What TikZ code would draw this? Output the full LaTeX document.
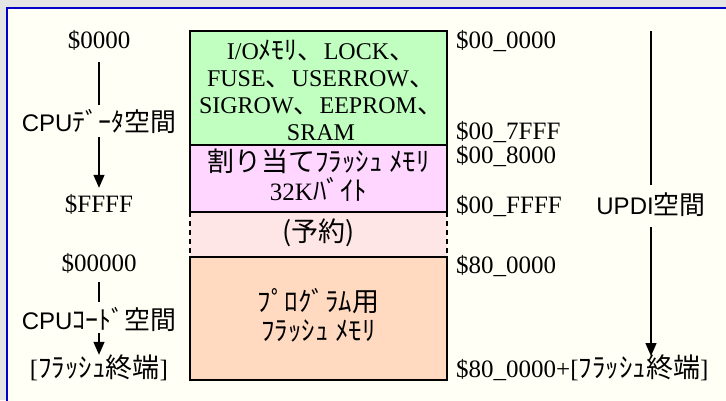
\documentclass[tikz,border=0pt]{standalone}
\usepackage{fontspec}
\setmainfont{Liberation Serif}
\newfontfamily\jpfont[Scale=1.08]{Noto Sans CJK JP}
\newfontfamily\gothic{Liberation Sans}
\usetikzlibrary{arrows.meta}
\newcommand{\jtxt}[1]{{\jpfont #1}}

\definecolor{pagegray}{RGB}{228,228,228}
\definecolor{ivory}{RGB}{255,255,246}
\definecolor{frameblue}{RGB}{0,0,200}
\definecolor{iomem}{RGB}{192,255,192}
\definecolor{flashmap}{RGB}{255,214,255}
\definecolor{rsvd}{RGB}{255,230,230}
\definecolor{progflash}{RGB}{255,218,192}

\tikzset{
  addr/.style={font=\fontsize{25}{28}\selectfont, text height=18pt, text depth=2pt},
  spacename/.style={font=\fontsize{24}{28}\selectfont\gothic, text height=18pt, text depth=2pt},
  boxtext/.style={align=center},
  membox/.style={draw=black, line width=2.6pt},
  spanline/.style={line width=1.4pt},
}

\begin{document}
\begin{tikzpicture}[x=1pt, y=-1pt, >={Triangle[length=13pt,width=11pt]}, every node/.style={inner sep=0pt}]
	% 1. 背景と青い外枠 (右下は画面外まで続く)
	\clip (0,0) rectangle (726,400);
	\fill[pagegray] (0,0) rectangle (726,400);
	\fill[ivory] (7,8) rectangle (740,420);
	\draw[frameblue, line width=2pt] (7,8) rectangle (740,420);
	
	% 2. メモリ領域の塗り
	\fill[iomem] (190,31) rectangle (447,145);
	\fill[flashmap] (190,145) rectangle (447,212);
	\fill[rsvd] (190,212) rectangle (447,257);
	\fill[progflash] (190,257) rectangle (447,380);
	
	% 3. 領域の枠線 (予約領域の左右だけ破線)
	\draw[membox] (190,31) rectangle (447,212);
	\draw[membox] (190,145) -- (447,145);
	\draw[membox] (190,257) rectangle (447,380);
	\draw[membox, dash pattern=on 5pt off 4pt] (190,212) -- (190,257);
	\draw[membox, dash pattern=on 5pt off 4pt] (447,212) -- (447,257);
	
	% 4. 領域の中の文字
	\node[boxtext, font=\fontsize{24}{27}\selectfont] (ioText) at (321,90) {I/O\jtxt{ﾒﾓﾘ、}LOCK\jtxt{、}\\FUSE\jtxt{、}USERROW\jtxt{、}\\SIGROW\jtxt{、}EEPROM\jtxt{、}\\SRAM};
	\node[boxtext, font=\fontsize{25}{29}\selectfont] (mapText) at (318.5,175) {\jtxt{割り当てﾌﾗｯｼｭ ﾒﾓﾘ}\\32K\jtxt{ﾊﾞｲﾄ}};
	\node[boxtext, font=\fontsize{25}{29}\selectfont] (rsvText) at (318.5,233) {\jtxt{(予約)}};
	\node[boxtext, font=\fontsize{25}{29}\selectfont] (progText) at (318.5,315) {\jtxt{ﾌﾟﾛｸﾞﾗﾑ用}\\\jtxt{ﾌﾗｯｼｭ ﾒﾓﾘ}};
	
	% 5. CPU側の空間 (左)
	\node[addr] (cpuDataTop) at (99,40) {\$0000};
	\node[spacename] (cpuData) at (99,123) {CPU\jtxt{ﾃﾞｰﾀ空間}};
	\node[addr] (cpuDataEnd) at (99,204) {\$FFFF};
	\draw[spanline, shorten <=12pt, shorten >=8pt] (cpuDataTop) -- (cpuData);
	\draw[spanline, ->, shorten <=4pt, shorten >=6pt] (cpuData) -- (cpuDataEnd);
	
	\node[addr] (cpuCodeTop) at (99,263) {\$00000};
	\node[spacename] (cpuCode) at (99,321) {CPU\jtxt{ｺｰﾄﾞ空間}};
	\node[addr] (cpuCodeEnd) at (99,369) {[\jtxt{ﾌﾗｯｼｭ終端}]};
	\draw[spanline, shorten <=9pt, shorten >=9pt] (cpuCodeTop) -- (cpuCode);
	\draw[spanline, ->, shorten <=2pt, shorten >=4pt] (cpuCode) -- (cpuCodeEnd);
	
	% 6. UPDIアドレス (右)
	\node[addr, anchor=west] (u000000) at (456,40) {\$00\_0000};
	\node[addr, anchor=west] (u007FFF) at (456,131) {\$00\_7FFF};
	\node[addr, anchor=west] (u008000) at (456,155) {\$00\_8000};
	\node[addr, anchor=west] (u00FFFF) at (456,205) {\$00\_FFFF};
	\node[addr, anchor=west] (u800000) at (456,265) {\$80\_0000};
	\node[addr, anchor=west] (uFlashEnd) at (456,369) {\$80\_0000+[\jtxt{ﾌﾗｯｼｭ終端}]};
	
	% 7. UPDI空間
	\coordinate (updiTop) at (651,31);
	\node[spacename] (updi) at (651,206) {UPDI\jtxt{空間}};
	\coordinate (updiEnd) at (651,356);
	\draw[spanline, shorten >=11pt] (updiTop) -- (updi);
	\draw[spanline, ->, shorten <=11pt] (updi) -- (updiEnd);
\end{tikzpicture}
\end{document}
